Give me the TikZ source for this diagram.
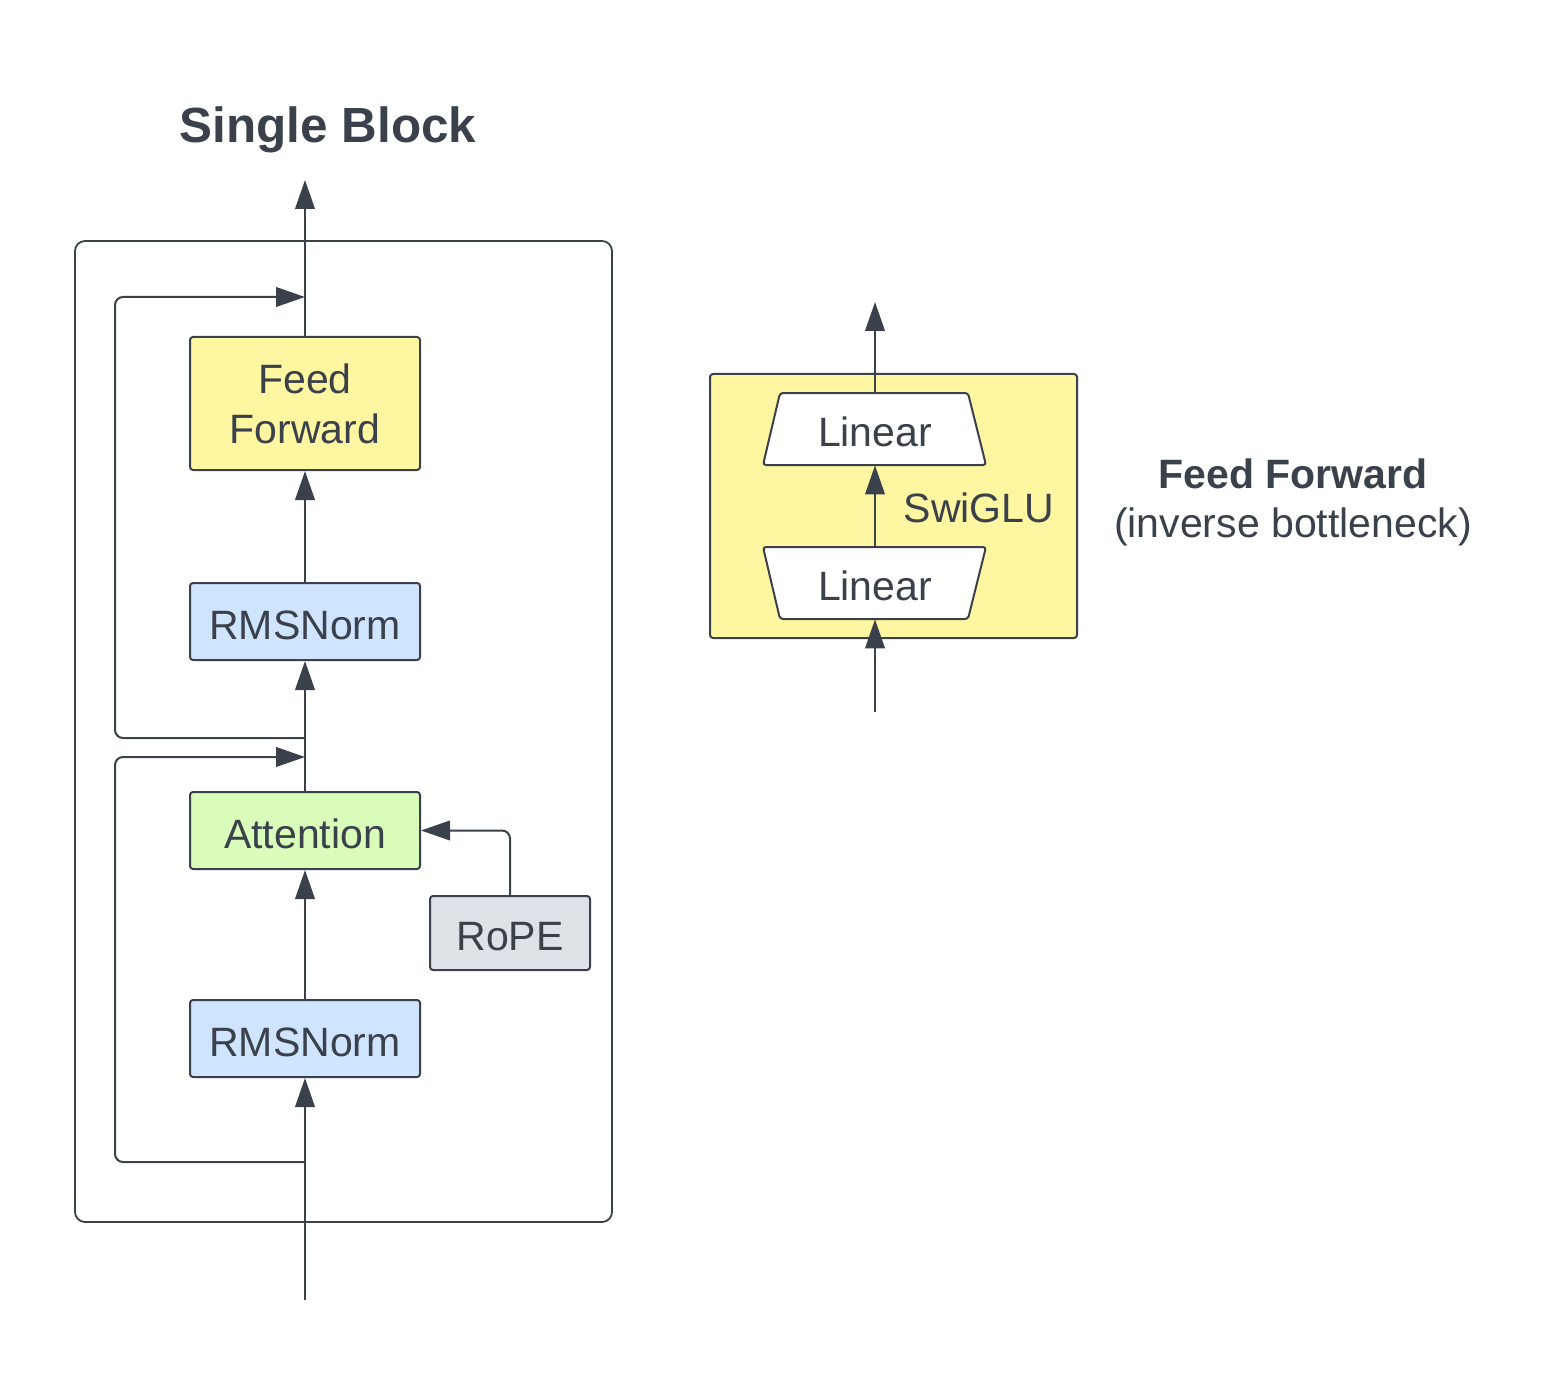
\documentclass[tikz,border=0pt]{standalone}
\usepackage{fontspec}
\setmainfont{Liberation Sans}
\usetikzlibrary{arrows.meta}
\definecolor{ink}{HTML}{3A414A}
\definecolor{ffyellow}{HTML}{FFF6A1}
\definecolor{normblue}{HTML}{CFE4FF}
\definecolor{attgreen}{HTML}{D9FCBB}
\definecolor{ropegray}{HTML}{DEE1E6}
\begin{document}
\begin{tikzpicture}[x=0.5pt,y=-0.5pt,
  every node/.style={text=ink, font=\fontsize{20.5}{25}\selectfont},
  blk/.style={draw=ink, line width=1pt, rounded corners=1.5pt, minimum width=115pt, inner sep=0pt, align=center},
  low/.style={text height=17.6pt, text depth=0pt},
  conn/.style={draw=ink, line width=1pt, -{Triangle[length=14.5pt,width=9.8pt]}},
  plain/.style={draw=ink, line width=1pt},
  ttl/.style={font=\bfseries\fontsize{24.7}{30}\selectfont},
  bold/.style={font=\bfseries\fontsize{20.5}{25}\selectfont},
]
\useasboundingbox (0,0) rectangle (1562,1374);

% ---------- Single Block ----------
\node[ttl, anchor=base] (title) at (328,142.5) {Single Block};
\node[draw=ink, line width=0.9pt, rounded corners=5pt, minimum width=268.5pt, minimum height=490.5pt] (frame) at (343.5,731.5) {};

\node[blk, low, fill=normblue, minimum height=38.5pt] (rms1) at (305,1038.5) {RMSNorm};
\node[blk, low, fill=attgreen, minimum height=38.5pt] (att) at (305,830.5) {Attention};
\node[blk, low, fill=ropegray, minimum width=80pt, minimum height=37pt] (rope) at (510,933) {RoPE};
\node[blk, low, fill=normblue, minimum height=38.5pt] (rms2) at (305,621.5) {RMSNorm};
\node[blk, fill=ffyellow, minimum height=66.5pt] (ff) at (305,403.5) {Feed\\Forward};

\coordinate (in) at (305,1300);
\coordinate (out) at (305,180);
\coordinate (s1a) at (305,1162);
\coordinate (s1b) at (305,757);
\coordinate (s2a) at (305,738);
\coordinate (s2b) at (305,297);

\draw[conn] (in) -- (rms1.south);
\draw[conn] (rms1.north) -- (att.south);
\draw[conn] (att.north) -- (rms2.south);
\draw[conn] (rms2.north) -- (ff.south);
\draw[conn] (ff.north) -- (out);
\draw[conn, rounded corners=4pt] (s1a) -- (115,1162) -- (115,757) -- (s1b);
\draw[conn, rounded corners=4pt] (s2a) -- (115,738) -- (115,297) -- (s2b);
\draw[conn, rounded corners=4pt] (rope.north) |- (att.east);

% ---------- Feed Forward detail ----------
\node[draw=ink, line width=1pt, fill=ffyellow, rounded corners=1.5pt, minimum width=183.5pt, minimum height=132pt] (ffbox) at (893.5,506) {};
\draw[plain, fill=white, rounded corners=1.5pt] (780,393) -- (968,393) -- (986,465) -- (763,465) -- cycle;
\draw[plain, fill=white, rounded corners=1.5pt] (763,547) -- (986,547) -- (968,619) -- (780,619) -- cycle;
\node[low, minimum width=94pt, minimum height=36pt, inner sep=0pt] (lin2) at (875,429) {Linear};
\node[low, minimum width=94pt, minimum height=36pt, inner sep=0pt] (lin1) at (875,583) {Linear};
\node (swiglu) at (979,508) {SwiGLU};

\coordinate (ffin) at (875,712);
\coordinate (ffout) at (875,302);
\draw[conn] (ffin) -- (lin1.south);
\draw[conn] (lin1.north) -- (lin2.south);
\draw[conn] (lin2.north) -- (ffout);

\node[bold] (fflabel) at (1293,474) {Feed Forward};
\node (ffsub) at (1293,527) {(inverse bottleneck)};
\end{tikzpicture}
\end{document}
